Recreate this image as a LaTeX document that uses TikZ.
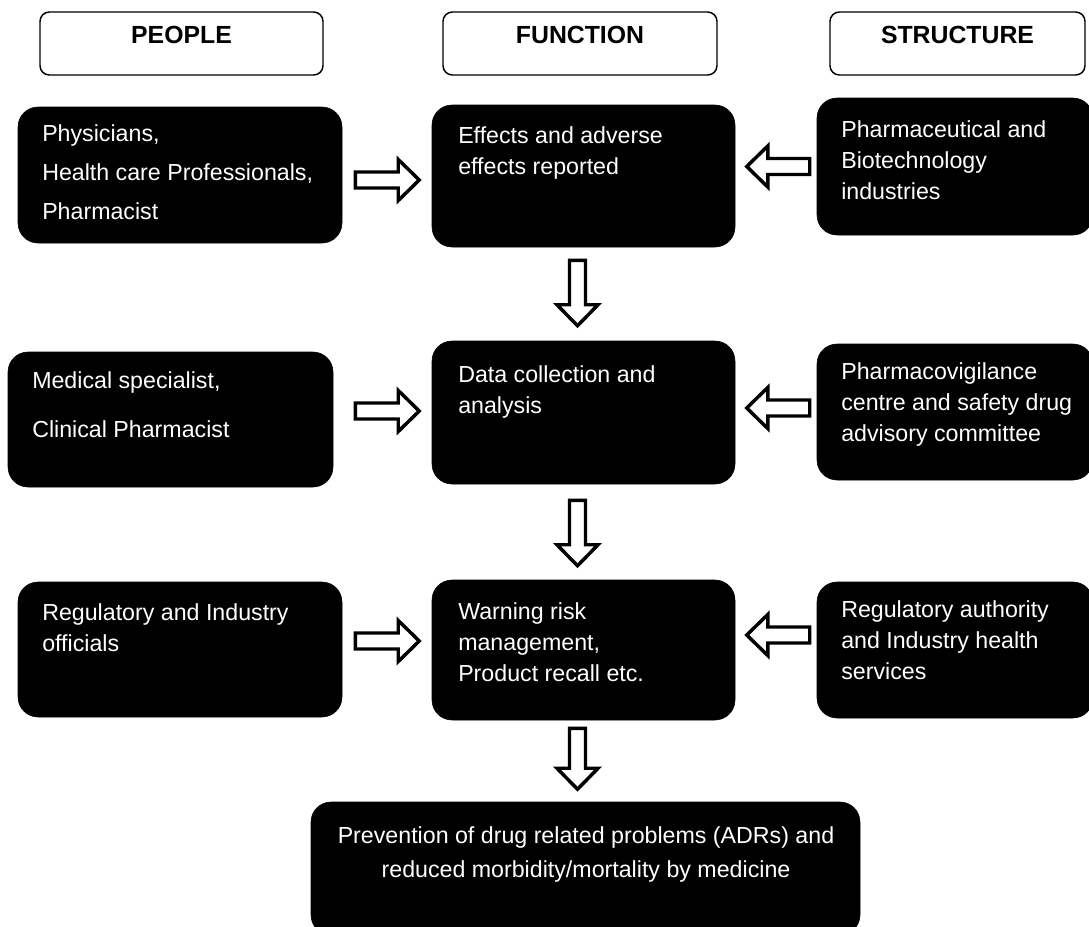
\documentclass[tikz,border=0pt]{standalone}
\usepackage{fontspec}
\setmainfont{Liberation Sans}
\usepackage{tikz}
\usetikzlibrary{calc,fit,positioning}

\begin{document}
\begin{tikzpicture}[x=0.75pt,y=-0.75pt,
  headbox/.style={draw=black,line width=1.1pt,fill=white,rounded corners=7pt,inner sep=0pt,
    font=\fontsize{18.6pt}{22pt}\selectfont\bfseries,text height=13.4pt,text depth=6pt},
  darkbox/.style={draw=black,fill=black,rounded corners=15pt,inner sep=0pt},
  boxtext/.style={text=white,inner sep=0pt,align=left,anchor=base west,
    font=\fontsize{17.4pt}{23.25pt}\selectfont},
  hollowarrow/.style={draw=black,line width=2.6pt,fill=white,line join=miter,
    to path={let \p1=(\tikztostart),\p2=(\tikztotarget),
      \n1={atan2(\y2-\y1,\x2-\x1)},\n2={veclen(\x2-\x1,\y2-\y1)} in
      ($(\p1)+(\n1+90:6pt)$) -- ($(\p1)+(\n1:\n2-15.75pt)+(\n1+90:6pt)$)
      -- ($(\p1)+(\n1:\n2-15.75pt)+(\n1+90:15.4pt)$) -- (\p2)
      -- ($(\p1)+(\n1:\n2-15.75pt)+(\n1-90:15.4pt)$)
      -- ($(\p1)+(\n1:\n2-15.75pt)+(\n1-90:6pt)$)
      -- ($(\p1)+(\n1-90:6pt)$) -- cycle}}]
\useasboundingbox (0,0) rectangle (1089,926);
% headers
\node[headbox,fit={(40,12) (323,75)}] (hpeople) {PEOPLE};
\node[headbox,fit={(443,12) (717,75)}] (hfunction) {FUNCTION};
\node[headbox,fit={(830,12) (1085,75)}] (hstructure) {STRUCTURE};
% people column (text placed by its last baseline)
\node[darkbox,fit={(18,107) (342,243)}] (p1) {};
\node[boxtext,font=\fontsize{17.4pt}{29.25pt}\selectfont] (p1t) at (42,219) {Physicians,\\Health care Professionals,\\Pharmacist};
\node[darkbox,fit={(8,352) (333,487)}] (p2) {};
\node[boxtext,font=\fontsize{17.4pt}{36.75pt}\selectfont] (p2t) at (32,437) {Medical specialist,\\Clinical Pharmacist};
\node[darkbox,fit={(18,582) (342,717)}] (p3) {};
\node[boxtext] (p3t) at (42,651) {Regulatory and Industry\\officials};
% function column
\node[darkbox,fit={(432,105) (735,247)}] (f1) {};
\node[boxtext] (f1t) at (458,174) {Effects and adverse\\effects reported};
\node[darkbox,fit={(432,341) (735,484)}] (f2) {};
\node[boxtext] (f2t) at (458,413) {Data collection and\\analysis};
\node[darkbox,fit={(432,580) (735,720)}] (f3) {};
\node[boxtext] (f3t) at (458,681) {Warning risk\\management,\\Product recall etc.};
% structure column
\node[darkbox,fit={(817,98) (1093,235)}] (s1) {};
\node[boxtext] (s1t) at (841,199) {Pharmaceutical and\\Biotechnology\\industries};
\node[darkbox,fit={(817,344) (1093,480)}] (s2) {};
\node[boxtext] (s2t) at (841,441) {Pharmacovigilance\\centre and safety drug\\advisory committee};
\node[darkbox,fit={(817,582) (1093,718)}] (s3) {};
\node[boxtext] (s3t) at (841,679) {Regulatory authority\\and Industry health\\services};
% outcome
\node[darkbox,fit={(311,802) (860,935)}] (ad) {};
\node[boxtext,align=center,anchor=base,font=\fontsize{17.4pt}{25.5pt}\selectfont] (adt) at (586,877) {Prevention of drug related problems (ADRs) and\\reduced morbidity/mortality by medicine};
% arrows into function column
\draw[hollowarrow] ($(p1.east)+(13,5)$) to ($(p1.east -| f1.west)+(-12.5,5)$);
\draw[hollowarrow] ($(s1.west)+(-7,0)$) to ($(s1.west -| f1.east)+(11.5,0)$);
\draw[hollowarrow] ($(p2.east)+(22,-8.5)$) to ($(p2.east -| f2.west)+(-12.5,-8.5)$);
\draw[hollowarrow] ($(s2.west)+(-7,-4)$) to ($(s2.west -| f2.east)+(11.5,-4)$);
\draw[hollowarrow] ($(p3.east)+(13,-8.5)$) to ($(p3.east -| f3.west)+(-12.5,-8.5)$);
\draw[hollowarrow] ($(s3.west)+(-7,-15)$) to ($(s3.west -| f3.east)+(11.5,-15)$);
% down the function column
\draw[hollowarrow] ($(f1.south)+(-6,13)$) to ($(f2.north)+(-6,-15)$);
\draw[hollowarrow] ($(f2.south)+(-6,16)$) to ($(f3.north)+(-6,-14)$);
\draw[hollowarrow] ($(f3.south)+(-6,8)$) to ($(f3.south |- ad.north)+(-6,-12.5)$);
\end{tikzpicture}
\end{document}
